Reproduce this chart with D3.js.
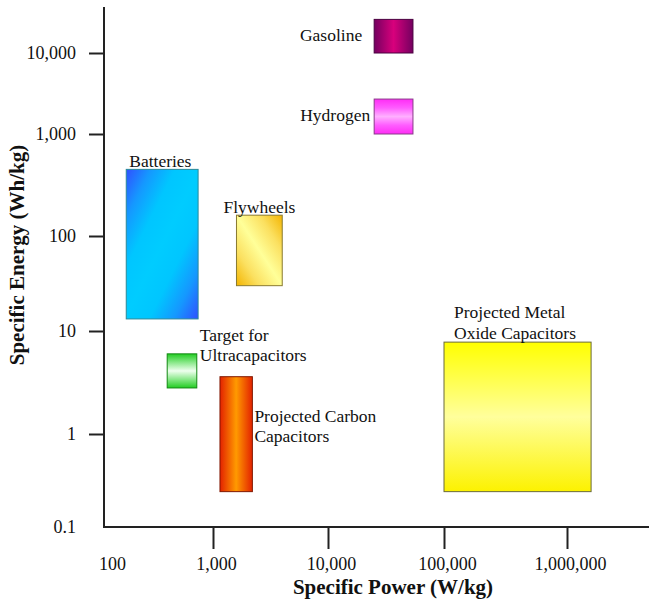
<!DOCTYPE html>
<html>
<head>
<meta charset="utf-8">
<script src="https://cdn.jsdelivr.net/npm/d3@7"></script>
<style>
  body { margin: 0; background: #fff; }
  svg text { font-family: "Liberation Serif", "Times New Roman", serif; fill: #111; }
  .box-label { font-size: 17.5px; }
  .tick text { font-size: 18px; }
  .axis-title { font-size: 21px; font-weight: bold; }
</style>
</head>
<body>
<svg id="chart" width="649" height="600"></svg>
<script>
// Ragone plot: each technology is a box spanning a power range and an energy range
const technologies = ["Gasoline", "Hydrogen", "Batteries", "Flywheels", "Target for Ultracapacitors", "Projected Carbon Capacitors", "Projected Metal Oxide Capacitors"];
const powerMin = [25000, 25000, 160, 1600, 380, 1150, 100000];   // W/kg
const powerMax = [54000, 54000, 730, 4000, 710, 2200, 1570000];
const energyMin = [10000, 1000, 13.4, 30, 2.8, 0.24, 0.24];        // Wh/kg
const energyMax = [26000, 2700, 450, 160, 6, 3.6, 7.8];

const xTicks = [100, 1000, 10000, 100000, 1000000];
const yTicks = [0.1, 1, 10, 100, 1000, 10000];

// label lines and placement relative to each box (pixels)
const labels = {
  "Gasoline": { lines: ["Gasoline"], anchor: "end", from: "left", dx: -12, dy: 22 },
  "Hydrogen": { lines: ["Hydrogen"], anchor: "end", from: "left", dx: -4, dy: 22 },
  "Batteries": { lines: ["Batteries"], anchor: "start", from: "left", dx: 3, dy: -2 },
  "Flywheels": { lines: ["Flywheels"], anchor: "start", from: "left", dx: -13, dy: -2 },
  "Target for Ultracapacitors": { lines: ["Target for", "Ultracapacitors"], anchor: "start", from: "right", dx: 3, dy: -13 },
  "Projected Carbon Capacitors": { lines: ["Projected Carbon", "Capacitors"], anchor: "start", from: "right", dx: 2, dy: 45 },
  "Projected Metal Oxide Capacitors": { lines: ["Projected Metal", "Oxide Capacitors"], anchor: "start", from: "left", dx: 10, dy: -24 }
};

// gradient fills: direction in box units (or "slant" = tilted across the box in pixels), stops, outline
const fills = {
  "Gasoline": { dir: [0, 0, 1, 0], stops: ["#740060", "#d8007c", "#740060"], stroke: "#4a0040" },
  "Hydrogen": { dir: [0, 0, 0, 1], stops: ["#ff2cf5", "#ff5cff", "#ffb0ff", "#ff5cff", "#ff2cf5"], stroke: "#8a3a8a" },
  "Batteries": { dir: "slant", stops: ["#3050ff", "#1598ff", "#00c6ff", "#00ccff", "#00c6ff", "#1598ff", "#3050ff"], stroke: "#2a8a9a" },
  "Flywheels": { dir: [1, 0, 0, 1], stops: ["#f3b400", "#fbe060", "#ffff99", "#fbe060", "#f3b400"], stroke: "#8a7a30" },
  "Target for Ultracapacitors": { dir: [0, 0, 0, 1], stops: ["#22cc22", "#88e888", "#eeffee", "#88e888", "#22cc22"], stroke: "#118811" },
  "Projected Carbon Capacitors": { dir: [0, 0, 1, 0], stops: ["#e32200", "#ff9a00", "#e32200"], stroke: "#801800" },
  "Projected Metal Oxide Capacitors": { dir: [0, 0, 0, 1], stops: ["#ffff00", "#ffff9c", "#fcf200"], stroke: "#6a6a3a" }
};

const width = 649, height = 600;
const axisX = 104, axisY = 527, axisTop = 7;

// the printed axes are not evenly spaced per decade, so map each decade piecewise
const x = d3.scaleLog().domain(xTicks).range([axisX, 213, 328, 444, 567]);
const y = d3.scaleLog().domain(yTicks).range([axisY, 434, 331, 236, 134, 53]);

const svg = d3.select("#chart");
const defs = svg.append("defs");

const boxes = technologies.map((name, i) => ({
  name,
  x0: x(powerMin[i]), x1: x(powerMax[i]),
  y0: y(energyMax[i]), y1: y(energyMin[i])
}));

boxes.forEach((b, i) => {
  const f = fills[b.name];
  const g = defs.append("linearGradient").attr("id", "grad" + i);
  if (f.dir === "slant") {
    // corner to corner, isolines leaning a little off vertical
    const w = b.x1 - b.x0, h = b.y1 - b.y0;
    const k = (2 * w + h) / 5;
    g.attr("gradientUnits", "userSpaceOnUse")
      .attr("x1", b.x0).attr("y1", b.y0)
      .attr("x2", b.x0 + 2 * k).attr("y2", b.y0 + k);
  } else {
    g.attr("x1", f.dir[0]).attr("y1", f.dir[1])
      .attr("x2", f.dir[2]).attr("y2", f.dir[3]);
  }
  f.stops.forEach((c, k) => {
    g.append("stop").attr("offset", k / (f.stops.length - 1)).attr("stop-color", c);
  });
});

svg.append("g")
  .selectAll("rect")
  .data(boxes)
  .join("rect")
  .attr("x", d => d.x0)
  .attr("y", d => d.y0)
  .attr("width", d => d.x1 - d.x0)
  .attr("height", d => d.y1 - d.y0)
  .attr("fill", (d, i) => `url(#grad${i})`)
  .attr("stroke", d => fills[d.name].stroke)
  .attr("stroke-width", 1);

const labelGroup = svg.append("g");
boxes.forEach(b => {
  const l = labels[b.name];
  const tx = (l.from === "left" ? b.x0 : b.x1) + l.dx;
  const text = labelGroup.append("text")
    .attr("class", "box-label")
    .attr("text-anchor", l.anchor)
    .attr("x", tx)
    .attr("y", b.y0 + l.dy);
  l.lines.forEach((line, k) => {
    text.append("tspan").attr("x", tx).attr("dy", k === 0 ? 0 : 20.5).text(line);
  });
});

// axes
const fmt = d3.format(",");

const xAxis = svg.append("g")
  .attr("transform", `translate(0,${axisY})`)
  .call(d3.axisBottom(x).tickValues(xTicks).tickFormat(fmt).tickSize(22).tickPadding(8));
xAxis.select(".domain").remove();
xAxis.selectAll(".tick line").attr("stroke", "#222").attr("stroke-width", 2);
xAxis.selectAll(".tick text").attr("dx", d => d === 100 ? 8 : 3).attr("fill", "#111");
xAxis.selectAll(".tick").filter(d => d === 100).select("line").remove();

const yAxis = svg.append("g")
  .attr("transform", `translate(${axisX},0)`)
  .call(d3.axisLeft(y).tickValues(yTicks).tickFormat(fmt).tickSize(15).tickPadding(13));
yAxis.select(".domain").remove();
yAxis.selectAll(".tick line").attr("stroke", "#222").attr("stroke-width", 2);
yAxis.selectAll(".tick text").attr("fill", "#111");
yAxis.selectAll(".tick").filter(d => d === 0.1).select("line").remove();

svg.append("line")
  .attr("x1", axisX).attr("x2", width)
  .attr("y1", axisY).attr("y2", axisY)
  .attr("stroke", "#222").attr("stroke-width", 2);

svg.append("line")
  .attr("x1", axisX).attr("x2", axisX)
  .attr("y1", axisTop).attr("y2", axisY + 1)
  .attr("stroke", "#222").attr("stroke-width", 2);

svg.append("text")
  .attr("class", "axis-title")
  .attr("text-anchor", "middle")
  .attr("x", 393)
  .attr("y", 594)
  .text("Specific Power (W/kg)");

svg.append("text")
  .attr("class", "axis-title")
  .attr("text-anchor", "middle")
  .attr("transform", "translate(24,255) rotate(-90)")
  .text("Specific Energy (Wh/kg)");
</script>
</body>
</html>
